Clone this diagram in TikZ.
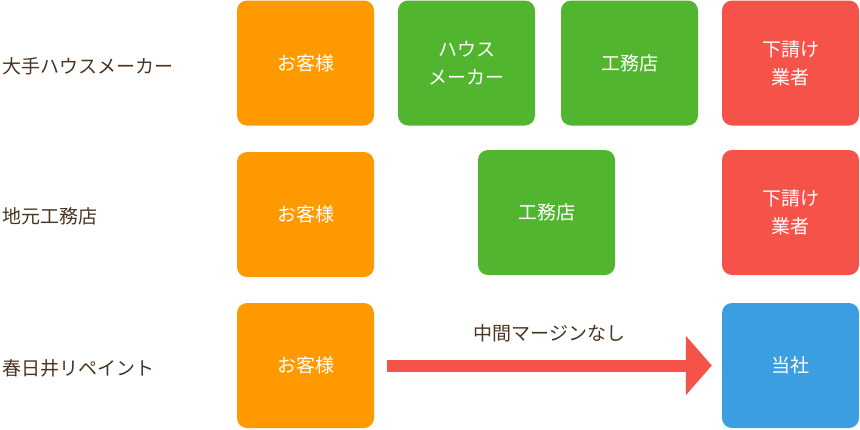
\documentclass[tikz,border=0pt]{standalone}
\usepackage{fontspec}
\setmainfont{Noto Sans CJK JP}
\usetikzlibrary{arrows.meta}
\definecolor{cOrange}{HTML}{FF9900}
\definecolor{cGreen}{HTML}{52B52F}
\definecolor{cRed}{HTML}{F5524A}
\definecolor{cBlue}{HTML}{3A9EE0}
\definecolor{cText}{HTML}{4A3522}

\begin{document}
\begin{tikzpicture}[x=1pt,y=-1pt]
\tikzset{box/.style = {rounded corners=10pt,minimum width=137pt,minimum height=125pt,
  text=white,font=\fontsize{19}{28}\selectfont,align=center,inner sep=0pt}}
\tikzset{rowlabel/.style = {anchor=west,text=cText,font=\fontsize{19}{24}\selectfont,inner sep=0pt}}
\useasboundingbox (0,0) rectangle (860,429);
  % row labels
  \node[rowlabel] (l1) at (2,66){大手ハウスメーカー};
  \node[rowlabel] (l2) at (2,216){地元工務店};
  \node[rowlabel] (l3) at (2,368){春日井リペイント};
  % first row
  \node[box,fill=cOrange] (c1) at (305.5,63){お客様};
  \node[box,fill=cGreen] (h1) at (466.5,63){ハウス\\メーカー};
  \node[box,fill=cGreen] (k1) at (629.5,63){工務店};
  \node[box,fill=cRed] (s1) at (790.5,63){下請け\\業者};
  % second row
  \node[box,fill=cOrange] (c2) at (305.5,214.5){お客様};
  \node[box,fill=cGreen] (k2) at (546.5,212.5){工務店};
  \node[box,fill=cRed] (s2) at (790.5,212.5){下請け\\業者};
  % third row
  \node[box,fill=cOrange] (c3) at (305.5,365.5){お客様};
  \node[box,fill=cBlue] (t3) at (790.5,365.5){当社};
  \draw[cRed,line width=12pt,-{Triangle[length=26pt,width=58pt]}]
    ([xshift=13pt]c3.east) -- ([xshift=-10pt]t3.west)
    node[midway,above=14pt,text=cText,font=\fontsize{19}{24}\selectfont] (m) {中間マージンなし};
\end{tikzpicture}
\end{document}
